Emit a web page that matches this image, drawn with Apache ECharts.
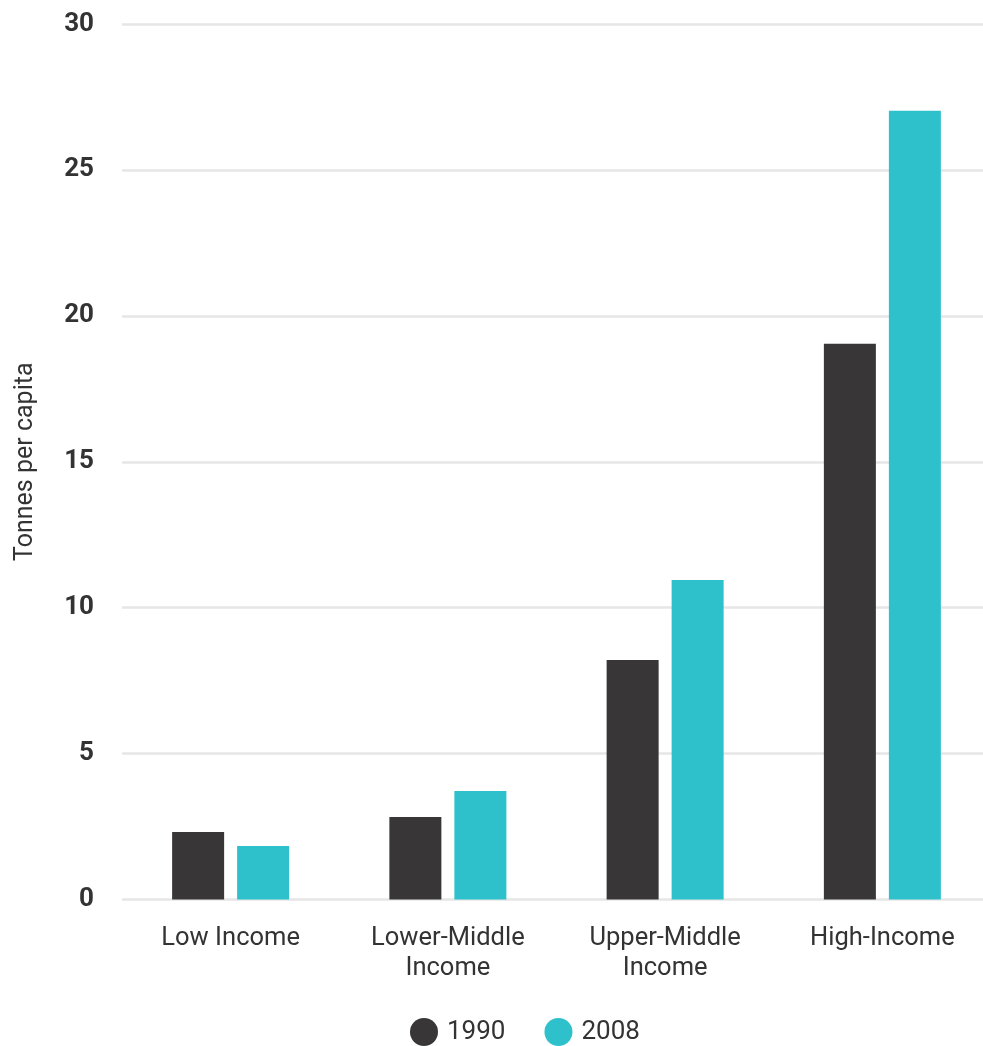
<!DOCTYPE html>
<html>
<head>
<meta charset="utf-8">
<script src="https://cdn.jsdelivr.net/npm/echarts@6/dist/echarts.min.js"></script>
<style>
  html, body { margin: 0; padding: 0; background: #ffffff; overflow: hidden; }
  /* The plot runs slightly past the right edge of the page */
  #chart { width: 1000px; height: 1046px; }
</style>
</head>
<body>
<div id="chart"></div>
<script>
// Income groups and CO2 emissions per capita (tonnes)
const categories = ['Low Income', 'Lower-Middle\nIncome', 'Upper-Middle\nIncome', 'High-Income'];
const values1990 = [2.31, 2.83, 8.21, 19.04];
const values2008 = [1.83, 3.72, 10.95, 27.03];
const yTicks = [0, 5, 10, 15, 20, 25, 30];

const textColor = '#333333';
const fontFamily = 'Roboto, "Noto Sans", sans-serif';

const chart = echarts.init(document.getElementById('chart'), null, { renderer: 'canvas' });

chart.setOption({
  animation: false,
  textStyle: { fontFamily: fontFamily },
  grid: { left: 122, width: 869, top: 24, height: 875.5, containLabel: false },
  legend: {
    left: 410,
    top: 1018,
    padding: 0,
    icon: 'circle',
    itemWidth: 28,
    itemHeight: 28,
    itemGap: 39,
    textStyle: { color: textColor, fontSize: 26, fontFamily: fontFamily, padding: [0, 0, 0, 4] },
    data: ['1990', '2008']
  },
  xAxis: {
    type: 'category',
    data: categories,
    axisLine: { show: false },
    axisTick: { show: false },
    axisLabel: {
      color: textColor,
      fontSize: 25.5,
      lineHeight: 30,
      margin: 24,
      fontFamily: fontFamily
    }
  },
  yAxis: {
    type: 'value',
    min: yTicks[0],
    max: yTicks[yTicks.length - 1],
    interval: 5,
    name: 'Tonnes per capita',
    nameLocation: 'middle',
    nameGap: 84,
    nameTextStyle: { color: textColor, fontSize: 25, fontFamily: fontFamily },
    axisLine: { show: false },
    axisTick: { show: false },
    axisLabel: {
      color: textColor,
      fontSize: 26,
      fontWeight: 'bold',
      margin: 28,
      fontFamily: fontFamily
    },
    splitLine: { lineStyle: { color: '#e6e6e6', width: 2.5 } }
  },
  series: [
    {
      name: '1990',
      type: 'bar',
      data: values1990,
      barWidth: 52,
      barGap: '25%',
      itemStyle: { color: '#383637' }
    },
    {
      name: '2008',
      type: 'bar',
      data: values2008,
      barWidth: 52,
      barGap: '25%',
      itemStyle: { color: '#2ec1cb' }
    }
  ]
});
</script>
</body>
</html>
